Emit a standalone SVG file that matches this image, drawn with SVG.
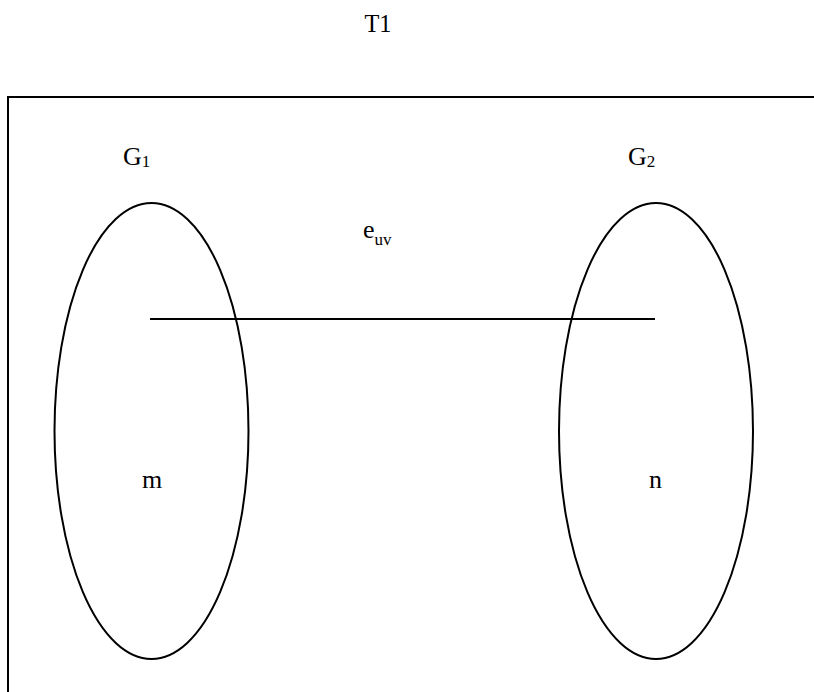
<svg xmlns="http://www.w3.org/2000/svg" width="814" height="692" viewBox="0 0 814 692">
<style>
.t{font-family:"Liberation Serif","Times New Roman",serif;font-size:26px;fill:#000}
.s{font-size:17px}
.ln{stroke:#000;stroke-width:2;fill:none}
</style>
<rect width="814" height="692" fill="#fff"/>
<text class="t" x="378" y="32" text-anchor="middle" textLength="27" lengthAdjust="spacingAndGlyphs">T1</text>
<g id="frame">
<path class="ln" d="M8,692 V97 H814"/>
</g>
<g id="G1">
<ellipse class="ln" cx="151.5" cy="431" rx="97" ry="228"/>
<text class="t" x="123" y="165">G<tspan class="s" dy="2">1</tspan></text>
<text class="t" x="142" y="488">m</text>
</g>
<g id="G2">
<ellipse class="ln" cx="656" cy="431" rx="97" ry="228"/>
<text class="t" x="628" y="165">G<tspan class="s" dy="2">2</tspan></text>
<text class="t" x="649" y="488">n</text>
</g>
<g id="connectors">
<line class="ln" x1="150" y1="319" x2="655" y2="319"/>
<text class="t" x="363" y="238">e<tspan class="s" dy="7">uv</tspan></text>
</g>
</svg>
